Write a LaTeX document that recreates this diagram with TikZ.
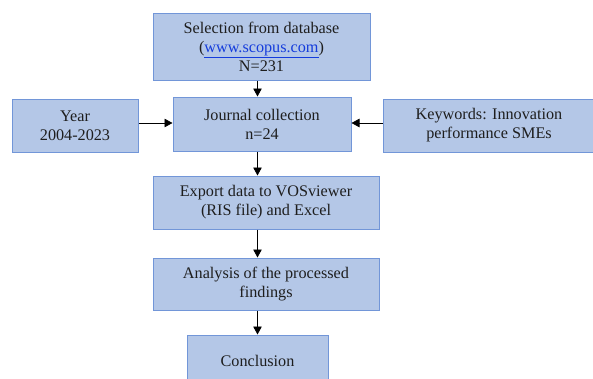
\documentclass[tikz,border=0pt]{standalone}
\usepackage{fontspec}
\setmainfont{Liberation Serif}
\usetikzlibrary{arrows.meta}
\definecolor{boxfill}{RGB}{180,199,231}
\definecolor{boxline}{RGB}{114,150,216}
\definecolor{txt}{RGB}{30,30,30}
\definecolor{linkblue}{RGB}{20,60,220}
\tikzset{
  flowbox/.style={draw=boxline, fill=boxfill, line width=1pt, inner sep=0pt,
    align=center, text=txt, font=\fontsize{16.2}{19}\selectfont},
  arr/.style={draw=black, line width=0.8pt, -{Triangle[length=8pt,width=8.5pt]}}
}
\begin{document}
\begin{tikzpicture}[x=1pt,y=-1pt]
\useasboundingbox (0,0) rectangle (593,378);
\node[flowbox, minimum width=217pt, minimum height=67pt] (sel) at (261.5,46.5)
  {Selection from database\\(\textcolor{linkblue}{\underline{www.scopus.com}})\\N=231};
\node[flowbox, minimum width=178pt, minimum height=54pt] (jc) at (262,124)
  {Journal collection\\n=24};
\node[flowbox, minimum width=126pt, minimum height=53pt] (yr) at (75,125.5)
  {Year\\2004-2023};
\node[flowbox, minimum width=212pt, minimum height=53pt] (kw) at (489,125.5)
  {Keywords: Innovation\\performance SMEs};
\node[flowbox, minimum width=226pt, minimum height=53pt] (ex) at (266,202.5)
  {Export data to VOSviewer\\(RIS file) and Excel};
\node[flowbox, minimum width=226pt, minimum height=52pt] (an) at (266,284)
  {Analysis of the processed\\findings};
\node[flowbox, minimum width=141pt, minimum height=52pt] (co) at (257.5,361)
  {Conclusion};
\coordinate (ax) at (257.5,0);
\draw[arr] (sel.south -| ax) -- (jc.north -| ax);
\draw[arr] (jc.south -| ax) -- (ex.north -| ax);
\draw[arr] (ex.south -| ax) -- (an.north -| ax);
\draw[arr] (an.south -| ax) -- (co.north -| ax);
\draw[arr] (yr.east |- 0,123) -- (jc.west |- 0,123);
\draw[arr] (kw.west |- 0,123) -- (jc.east |- 0,123);
\end{tikzpicture}
\end{document}
